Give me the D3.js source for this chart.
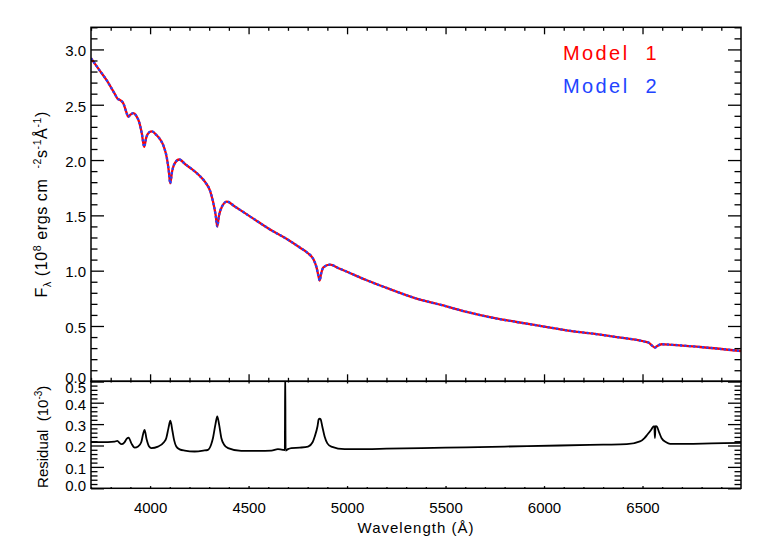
<!DOCTYPE html>
<html><head><meta charset="utf-8">
<script src="https://cdn.jsdelivr.net/npm/d3@7"></script>
<style>body{margin:0;background:#fff}</style>
</head><body><svg id="c" width="763" height="545"></svg>
<script>
// ---------- data ----------
const wavelengthModel = [3700,3740,3780,3820,3835,3850,3865,3880,3889,3900,3915,3930,3945,3958,3970,3980,3995,4010,4030,4050,4070,4085,4095,4102,4112,4125,4148,4180,4211,4250,4280,4305,4320,4333,4341,4350,4365,4390,4430,4482,4550,4620,4700,4760,4800,4830,4845,4855,4861,4868,4880,4913,4960,5000,5100,5200,5353,5500,5607,5750,5861,6000,6115,6250,6369,6450,6504,6530,6550,6563,6575,6597,6650,6792,7000];
const fluxModel1 = [2.92,2.82,2.72,2.60,2.555,2.54,2.51,2.43,2.39,2.41,2.425,2.40,2.34,2.24,2.12,2.20,2.25,2.26,2.23,2.19,2.12,2.02,1.90,1.79,1.90,1.97,2.005,1.96,1.92,1.86,1.80,1.72,1.62,1.50,1.40,1.50,1.58,1.625,1.58,1.52,1.44,1.36,1.28,1.21,1.16,1.10,1.03,0.95,0.91,0.97,1.03,1.055,1.02,0.99,0.913,0.845,0.748,0.68,0.627,0.57,0.536,0.495,0.461,0.43,0.40,0.38,0.362,0.35,0.32,0.305,0.32,0.335,0.33,0.31,0.274];
const fluxModel2 = [2.92,2.82,2.72,2.60,2.555,2.54,2.51,2.43,2.39,2.41,2.425,2.40,2.34,2.24,2.12,2.20,2.25,2.26,2.23,2.19,2.12,2.02,1.90,1.79,1.90,1.97,2.005,1.96,1.92,1.86,1.80,1.72,1.62,1.50,1.40,1.50,1.58,1.625,1.58,1.52,1.44,1.36,1.28,1.21,1.16,1.10,1.03,0.95,0.91,0.97,1.03,1.055,1.02,0.99,0.913,0.845,0.748,0.68,0.627,0.57,0.536,0.495,0.461,0.43,0.40,0.38,0.362,0.35,0.32,0.305,0.32,0.335,0.33,0.31,0.274];
const wavelengthResid = [3700,3786,3820,3834,3845,3854,3870,3882,3891,3905,3922,3939,3955,3965,3972,3982,3995,4006,4040,4070,4082,4093,4103,4113,4122,4133,4150,4176,4226,4270,4294,4310,4319,4332,4341,4350,4362,4375,4396,4463,4550,4616,4649,4675,4684,4686,4688,4700,4717,4760,4802,4825,4836,4850,4856,4861,4866,4874,4886,4900,4920,4988,5100,5200,5500,5800,6081,6300,6420,6487,6510,6524,6545,6555,6560,6563,6566,6572,6585,6597,6620,6640,6724,6850,7000];
const residual = [0.216,0.216,0.218,0.222,0.212,0.206,0.215,0.232,0.237,0.21,0.19,0.195,0.215,0.255,0.273,0.23,0.195,0.188,0.195,0.215,0.234,0.28,0.316,0.27,0.225,0.195,0.182,0.176,0.172,0.176,0.18,0.205,0.234,0.30,0.336,0.30,0.234,0.205,0.188,0.175,0.175,0.176,0.183,0.18,0.178,0.56,0.176,0.183,0.188,0.19,0.195,0.215,0.242,0.29,0.322,0.325,0.322,0.29,0.242,0.21,0.195,0.183,0.183,0.185,0.19,0.195,0.20,0.204,0.206,0.219,0.235,0.25,0.275,0.289,0.29,0.235,0.29,0.289,0.26,0.234,0.215,0.208,0.208,0.21,0.212];
const xTicks = [4000,4500,5000,5500,6000,6500];
const yTicksTop = [0.0,0.5,1.0,1.5,2.0,2.5,3.0];
const yTicksBot = [0.0,0.1,0.2,0.3,0.4,0.5];
const legendLabels = ["Model 1","Model 2"];
const legendColors = ["#ff0000","#2244ff"];

// ---------- layout ----------
const L=91, R=741, T=27.3, M=381.3, B=488.3;
const FONT = "'Liberation Sans', Arial, sans-serif";
const svg = d3.select("#c");

const x = d3.scaleLinear().domain([3700,7000]).range([L,R]);
const yTop = d3.scaleLinear().domain([0,3.2]).range([M,T]);
const yBot = d3.scaleLinear().domain([0,0.5]).range([B,M]);

const xMinor = d3.range(3700,7001,100).filter(v=>v%500!==0);
const yTopMinor = d3.range(0,3.21,0.1).map(v=>+v.toFixed(2)).filter(v=>Math.abs(v*2-Math.round(v*2))>1e-6);
const yBotMinor = d3.range(0,0.501,0.02).map(v=>+v.toFixed(3)).filter(v=>Math.abs(v*10-Math.round(v*10))>1e-6);

svg.append("defs").call(d=>{
  d.append("clipPath").attr("id","clipTop").append("rect").attr("x",L).attr("y",T).attr("width",R-L).attr("height",M-T);
  d.append("clipPath").attr("id","clipBot").append("rect").attr("x",L).attr("y",M).attr("width",R-L).attr("height",B-M);
});

// ---------- lines ----------
const topData1 = wavelengthModel.map((w,i)=>[w,fluxModel1[i]]);
const topData2 = wavelengthModel.map((w,i)=>[w,fluxModel2[i]]);
const lineTop = d3.line().x(d=>x(d[0])).y(d=>yTop(d[1])).curve(d3.curveMonotoneX);
const gTop = svg.append("g").attr("clip-path","url(#clipTop)");
gTop.append("path").attr("d",lineTop(topData1)).attr("fill","none").attr("stroke",legendColors[0]).attr("stroke-width",2.3);
gTop.append("path").attr("d",lineTop(topData2)).attr("fill","none").attr("stroke",legendColors[1]).attr("stroke-width",2.3).attr("stroke-dasharray","2.2,2.2");

const botData = wavelengthResid.map((w,i)=>[w,residual[i]]);
const lineBot = d3.line().x(d=>x(d[0])).y(d=>yBot(d[1])).curve(d3.curveMonotoneX);
svg.append("g").attr("clip-path","url(#clipBot)")
  .append("path").attr("d",lineBot(botData)).attr("fill","none").attr("stroke","#000").attr("stroke-width",1.8).attr("stroke-linejoin","round");

// ---------- axes ----------
function ax(gen, tx, ty, values, size, fmt, pad){
  const g = svg.append("g").attr("transform",`translate(${tx},${ty})`)
    .call(gen.tickValues(values).tickSize(size).tickPadding(pad||0).tickFormat(fmt||""));
  g.select(".domain").remove();
  g.selectAll("line").attr("stroke","#000").attr("stroke-width",1.3);
  g.attr("font-family",FONT).attr("font-size",15);
  g.selectAll("text").attr("fill","#000");
  return g;
}
// top panel
ax(d3.axisBottom(x),0,M,xTicks,-7);
ax(d3.axisBottom(x),0,M,xMinor,-3.5);
ax(d3.axisTop(x),0,T,xTicks,-7);
ax(d3.axisTop(x),0,T,xMinor,-3.5);
const yl = ax(d3.axisLeft(yTop),L,0,yTicksTop,-13,d3.format(".1f"),5);
yl.selectAll("text").attr("dy",d=>d===0?"0.05em":"0.42em");
ax(d3.axisLeft(yTop),L,0,yTopMinor,-6.5);
ax(d3.axisRight(yTop),R,0,yTicksTop,-13);
ax(d3.axisRight(yTop),R,0,yTopMinor,-6.5);
// bottom panel
ax(d3.axisBottom(x),0,B,xTicks,-2.2,d3.format("d"),14);
ax(d3.axisBottom(x),0,B,xMinor,-1.2);
ax(d3.axisTop(x),0,M,xTicks,-2.2);
ax(d3.axisTop(x),0,M,xMinor,-1.2);
const ybl = ax(d3.axisLeft(yBot),L,0,yTicksBot,-13,d3.format(".1f"),5);
ybl.selectAll("text").attr("dy",d=>d===0?"0.12em":(d===0.5?"0.75em":"0.42em"));
ax(d3.axisLeft(yBot),L,0,yBotMinor,-6.5);
ax(d3.axisRight(yBot),R,0,yTicksBot,-13);
ax(d3.axisRight(yBot),R,0,yBotMinor,-6.5);

// ---------- frames ----------
svg.append("rect").attr("x",L).attr("y",T).attr("width",R-L).attr("height",M-T).attr("fill","none").attr("stroke","#000").attr("stroke-width",1.5);
svg.append("rect").attr("x",L).attr("y",M).attr("width",R-L).attr("height",B-M).attr("fill","none").attr("stroke","#000").attr("stroke-width",1.5);

// ---------- titles ----------
svg.append("text").attr("x",(L+R)/2).attr("y",533).attr("text-anchor","middle")
  .attr("font-family",FONT).attr("font-size",15).attr("letter-spacing",1).text("Wavelength (Å)");

const t1 = svg.append("text").attr("transform",`translate(47,${(T+M)/2}) rotate(-90)`)
  .attr("text-anchor","middle").attr("font-family",FONT).attr("font-size",16).attr("letter-spacing",0.6)
  .style("white-space","pre");
const parts = [["F",0,16],["λ",4,10.5],[" (10",-4,16],["8",-6,10.5],[" ergs cm  ",6,16],["-2",-6,10.5],["s",6,16],["-1",-6,10.5],["Å",6,16],["-1",-6,10.5],[")",6,16]];
parts.forEach(p=>t1.append("tspan").attr("dy",p[1]).attr("font-size",p[2]).text(p[0]));

const t2 = svg.append("text").attr("transform",`translate(48,${(M+B)/2+2}) rotate(-90)`)
  .attr("text-anchor","middle").attr("font-family",FONT).attr("font-size",15).style("white-space","pre");
[["Residual  (10",0,15],["-3",-6,10],[")",6,15]].forEach(p=>t2.append("tspan").attr("dy",p[1]).attr("font-size",p[2]).text(p[0]));

// ---------- legend ----------
svg.selectAll(".leg").data(legendLabels).enter().append("text")
  .attr("x",563).attr("y",(d,i)=>60+i*33.3)
  .attr("font-family",FONT).attr("font-size",20).attr("letter-spacing",2.4).attr("word-spacing",8)
  .attr("fill",(d,i)=>legendColors[i]).text(d=>d);
</script></body></html>
